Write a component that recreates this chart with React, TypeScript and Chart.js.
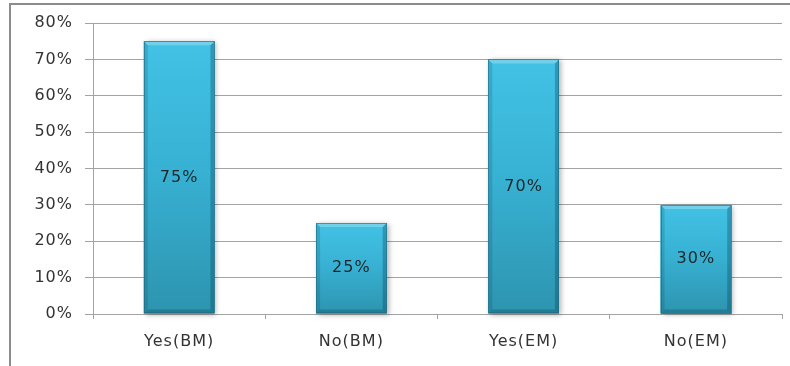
import React, { useEffect, useRef } from 'react';
import { Chart, registerables } from 'chart.js';

Chart.register(...registerables);

// Survey answers, in percent
const categories: string[] = ['Yes(BM)', 'No(BM)', 'Yes(EM)', 'No(EM)'];
const values: number[] = [75, 25, 70, 30];
const yMin = 0;
const yMax = 80;
const yStep = 10;

const FONT = "'DejaVu Sans', sans-serif";
const AXIS_COLOR = '#a3a3a3';
const TEXT_COLOR = '#333333';

// Frame, bar shadow, bevel and in-bar value labels.
const decorPlugin = {
  id: 'decor',
  beforeDraw(chart: any) {
    const { ctx, width, height } = chart;
    ctx.save();
    ctx.fillStyle = '#ffffff';
    ctx.fillRect(0, 0, width, height);
    ctx.strokeStyle = '#8c8c8c';
    ctx.lineWidth = 2;
    ctx.beginPath();
    ctx.moveTo(10, height + 2);
    ctx.lineTo(10, 4);
    ctx.lineTo(width + 2, 4);
    ctx.stroke();
    ctx.restore();
    ctx.letterSpacing = '1px';
  },
  beforeDatasetsDraw(chart: any) {
    const { ctx } = chart;
    const meta = chart.getDatasetMeta(0);
    ctx.save();
    ctx.shadowColor = 'rgba(0,0,0,0.3)';
    ctx.shadowBlur = 5;
    ctx.shadowOffsetX = 2;
    ctx.shadowOffsetY = 1;
    ctx.fillStyle = '#3aa9c8';
    meta.data.forEach((bar: any) => {
      const { x, y, base, width } = bar.getProps(['x', 'y', 'base', 'width'], true);
      ctx.fillRect(x - width / 2, y, width, base - y);
    });
    ctx.restore();
  },
  afterDatasetsDraw(chart: any) {
    const { ctx } = chart;
    const meta = chart.getDatasetMeta(0);
    const b = 4;
    meta.data.forEach((bar: any, i: number) => {
      const { x, y, base, width } = bar.getProps(['x', 'y', 'base', 'width'], true);
      const x0 = x - width / 2;
      const x1 = x + width / 2;
      const y0 = y;
      const y1 = base;
      ctx.save();
      const poly = (pts: number[][], fill: string) => {
        ctx.beginPath();
        ctx.moveTo(pts[0][0], pts[0][1]);
        for (let k = 1; k < pts.length; k++) ctx.lineTo(pts[k][0], pts[k][1]);
        ctx.closePath();
        ctx.fillStyle = fill;
        ctx.fill();
      };
      // left bevel
      poly([[x0, y0], [x0 + b, y0 + b], [x0 + b, y1 - b], [x0, y1]], 'rgba(0,55,75,0.16)');
      // right bevel
      poly([[x1, y0], [x1 - b, y0 + b], [x1 - b, y1 - b], [x1, y1]], 'rgba(0,45,65,0.28)');
      // top bevel
      poly([[x0, y0], [x1, y0], [x1 - b, y0 + b], [x0 + b, y0 + b]], 'rgba(255,255,255,0.25)');
      // bottom bevel
      poly([[x0, y1], [x1, y1], [x1 - b, y1 - b], [x0 + b, y1 - b]], 'rgba(0,40,60,0.22)');
      ctx.strokeStyle = 'rgba(30,105,128,0.6)';
      ctx.lineWidth = 1;
      ctx.strokeRect(Math.round(x0) + 0.5, Math.round(y0) + 0.5, Math.round(width) - 1, Math.round(y1 - y0) - 1);

      // value label in the middle of the bar
      ctx.fillStyle = '#1d262a';
      ctx.font = `16px ${FONT}`;
      ctx.textAlign = 'center';
      ctx.textBaseline = 'middle';
      ctx.fillText(`${values[i]}%`, x, (y0 + y1) / 2);
      ctx.restore();
    });
  },
};

export default function App() {
  const canvasRef = useRef<HTMLCanvasElement | null>(null);

  useEffect(() => {
    const canvas = canvasRef.current;
    if (!canvas) return;

    const barFill = (c: any) => {
      const chart = c.chart;
      const ys = chart.scales && chart.scales.y;
      if (!ys || !chart.chartArea || typeof c.raw !== 'number') return '#37b3d4';
      const top = ys.getPixelForValue(c.raw);
      const bottom = ys.getPixelForValue(0);
      const g = chart.ctx.createLinearGradient(0, top, 0, bottom);
      g.addColorStop(0, '#42c2e5');
      g.addColorStop(0.45, '#38b2d4');
      g.addColorStop(1, '#2d94af');
      return g;
    };

    const chart = new Chart(canvas, {
      type: 'bar',
      data: {
        labels: categories,
        datasets: [
          {
            data: values,
            backgroundColor: barFill,
            borderWidth: 0,
            categoryPercentage: 1,
            barPercentage: 0.41,
          },
        ],
      },
      options: {
        responsive: false,
        animation: false,
        devicePixelRatio: 1,
        layout: { padding: { top: 23, right: 8, bottom: 0, left: 0 } },
        plugins: {
          legend: { display: false },
          tooltip: { enabled: false },
          title: { display: false },
        },
        scales: {
          x: {
            grid: {
              offset: true,
              drawOnChartArea: false,
              drawTicks: true,
              tickLength: 5,
              color: AXIS_COLOR,
            },
            border: { color: AXIS_COLOR },
            ticks: {
              color: TEXT_COLOR,
              font: { family: FONT, size: 16 },
              padding: 13,
              maxRotation: 0,
            },
            afterFit: (s: any) => {
              s.height = 52;
            },
          },
          y: {
            min: yMin,
            max: yMax,
            grid: { color: AXIS_COLOR, tickLength: 8, drawTicks: true },
            border: { color: AXIS_COLOR },
            ticks: {
              stepSize: yStep,
              color: TEXT_COLOR,
              font: { family: FONT, size: 16 },
              padding: 12,
              callback: (v: any) => `${v}%`,
            },
            afterFit: (s: any) => {
              s.width = 93;
            },
          },
        },
      },
      plugins: [decorPlugin],
    });

    return () => chart.destroy();
  }, []);

  return (
    <div style={{ position: 'fixed', left: 0, top: 0, width: 790, height: 366, background: '#fff' }}>
      <canvas ref={canvasRef} width={790} height={366} style={{ display: 'block' }} />
    </div>
  );
}
